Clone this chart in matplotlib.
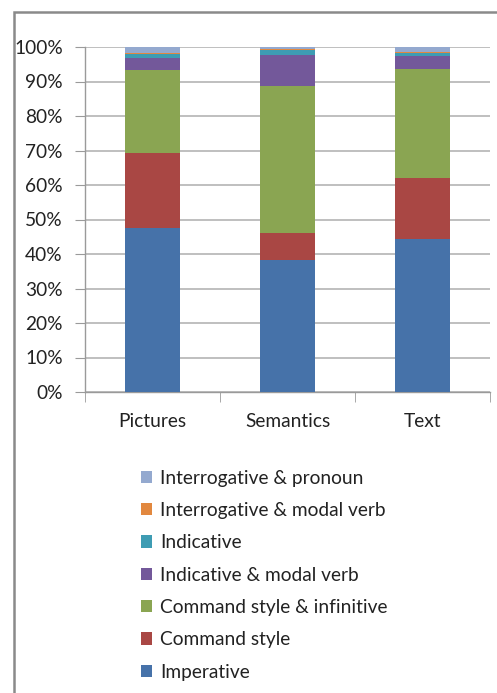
import matplotlib
matplotlib.use("Agg")
import matplotlib.pyplot as plt
from matplotlib.patches import Rectangle
from matplotlib.ticker import PercentFormatter, FixedLocator

plt.rcParams['font.family'] = ['Lato', 'DejaVu Sans']

categories = ["Pictures", "Semantics", "Text"]
series_names = [
    "Imperative",
    "Command style",
    "Command style & infinitive",
    "Indicative & modal verb",
    "Indicative",
    "Interrogative & modal verb",
    "Interrogative & pronoun",
]
imperative = [47.5, 38.4, 44.4]
command_style = [21.7, 7.8, 17.6]
command_infinitive = [24.2, 42.5, 31.6]
indicative_modal = [3.4, 9.1, 3.8]
indicative = [1.2, 1.2, 0.9]
interrogative_modal = [0.4, 0.3, 0.3]
interrogative_pronoun = [1.6, 0.7, 1.4]

series_values = [imperative, command_style, command_infinitive,
                 indicative_modal, indicative, interrogative_modal,
                 interrogative_pronoun]
colors = ["#4672A9", "#A94744", "#8AA552", "#73589A", "#3E9CB3",
          "#E2883F", "#94A9CF"]
y_ticks = list(range(0, 101, 10))

FS = 13.8

fig = plt.figure(figsize=(4.97, 6.93), dpi=100)
ax = fig.add_axes([85 / 497, 1 - 392 / 693, 405 / 497, 345 / 693])

x = list(range(len(categories)))
bottoms = [0.0] * len(categories)
handles = []
for name, vals, col in zip(series_names, series_values, colors):
    h = ax.bar(x, vals, bottom=bottoms, width=0.41, color=col, label=name,
               zorder=3, linewidth=0)
    handles.append(h)
    bottoms = [b + v for b, v in zip(bottoms, vals)]

ax.set_xlim(-0.5, len(categories) - 0.5)
ax.set_ylim(0, 100)
ax.yaxis.set_major_locator(FixedLocator(y_ticks))
ax.yaxis.set_major_formatter(PercentFormatter(decimals=0))
ax.set_xticks(x)
ax.set_xticklabels(categories)
ax.set_xticks([-0.5, 0.5, 1.5, 2.5], minor=True)

ax.grid(axis='y', color='#b4b4b4', linewidth=1.2, zorder=0)
for side in ('top', 'right'):
    ax.spines[side].set_visible(False)
for side in ('left', 'bottom'):
    ax.spines[side].set_color('#9a9a9a')
    ax.spines[side].set_linewidth(1.0)

ax.tick_params(axis='y', length=7, color='#9a9a9a', labelsize=FS,
               pad=9, labelcolor='#222222')
ax.tick_params(axis='x', which='major', length=0, labelsize=FS, pad=15,
               labelcolor='#222222')
ax.tick_params(axis='x', which='minor', length=7, color='#9a9a9a')

leg = fig.legend(handles[::-1], series_names[::-1], loc='upper left',
                 bbox_to_anchor=(133 / 497, 1 - 462 / 693), frameon=False,
                 fontsize=FS, handlelength=0.6, handleheight=0.6,
                 handletextpad=0.4, labelspacing=0.8, borderaxespad=0)
for t in leg.get_texts():
    t.set_color('#222222')

# outer chart frame, continuing past the right and bottom edges
fig.patches.append(Rectangle((14 / 497, -0.1), 1.2, 1 - 12 / 693 + 0.1,
                             transform=fig.transFigure, fill=False,
                             edgecolor='#8a8a8a', linewidth=1.8))

fig.savefig("out.png", dpi=100)
